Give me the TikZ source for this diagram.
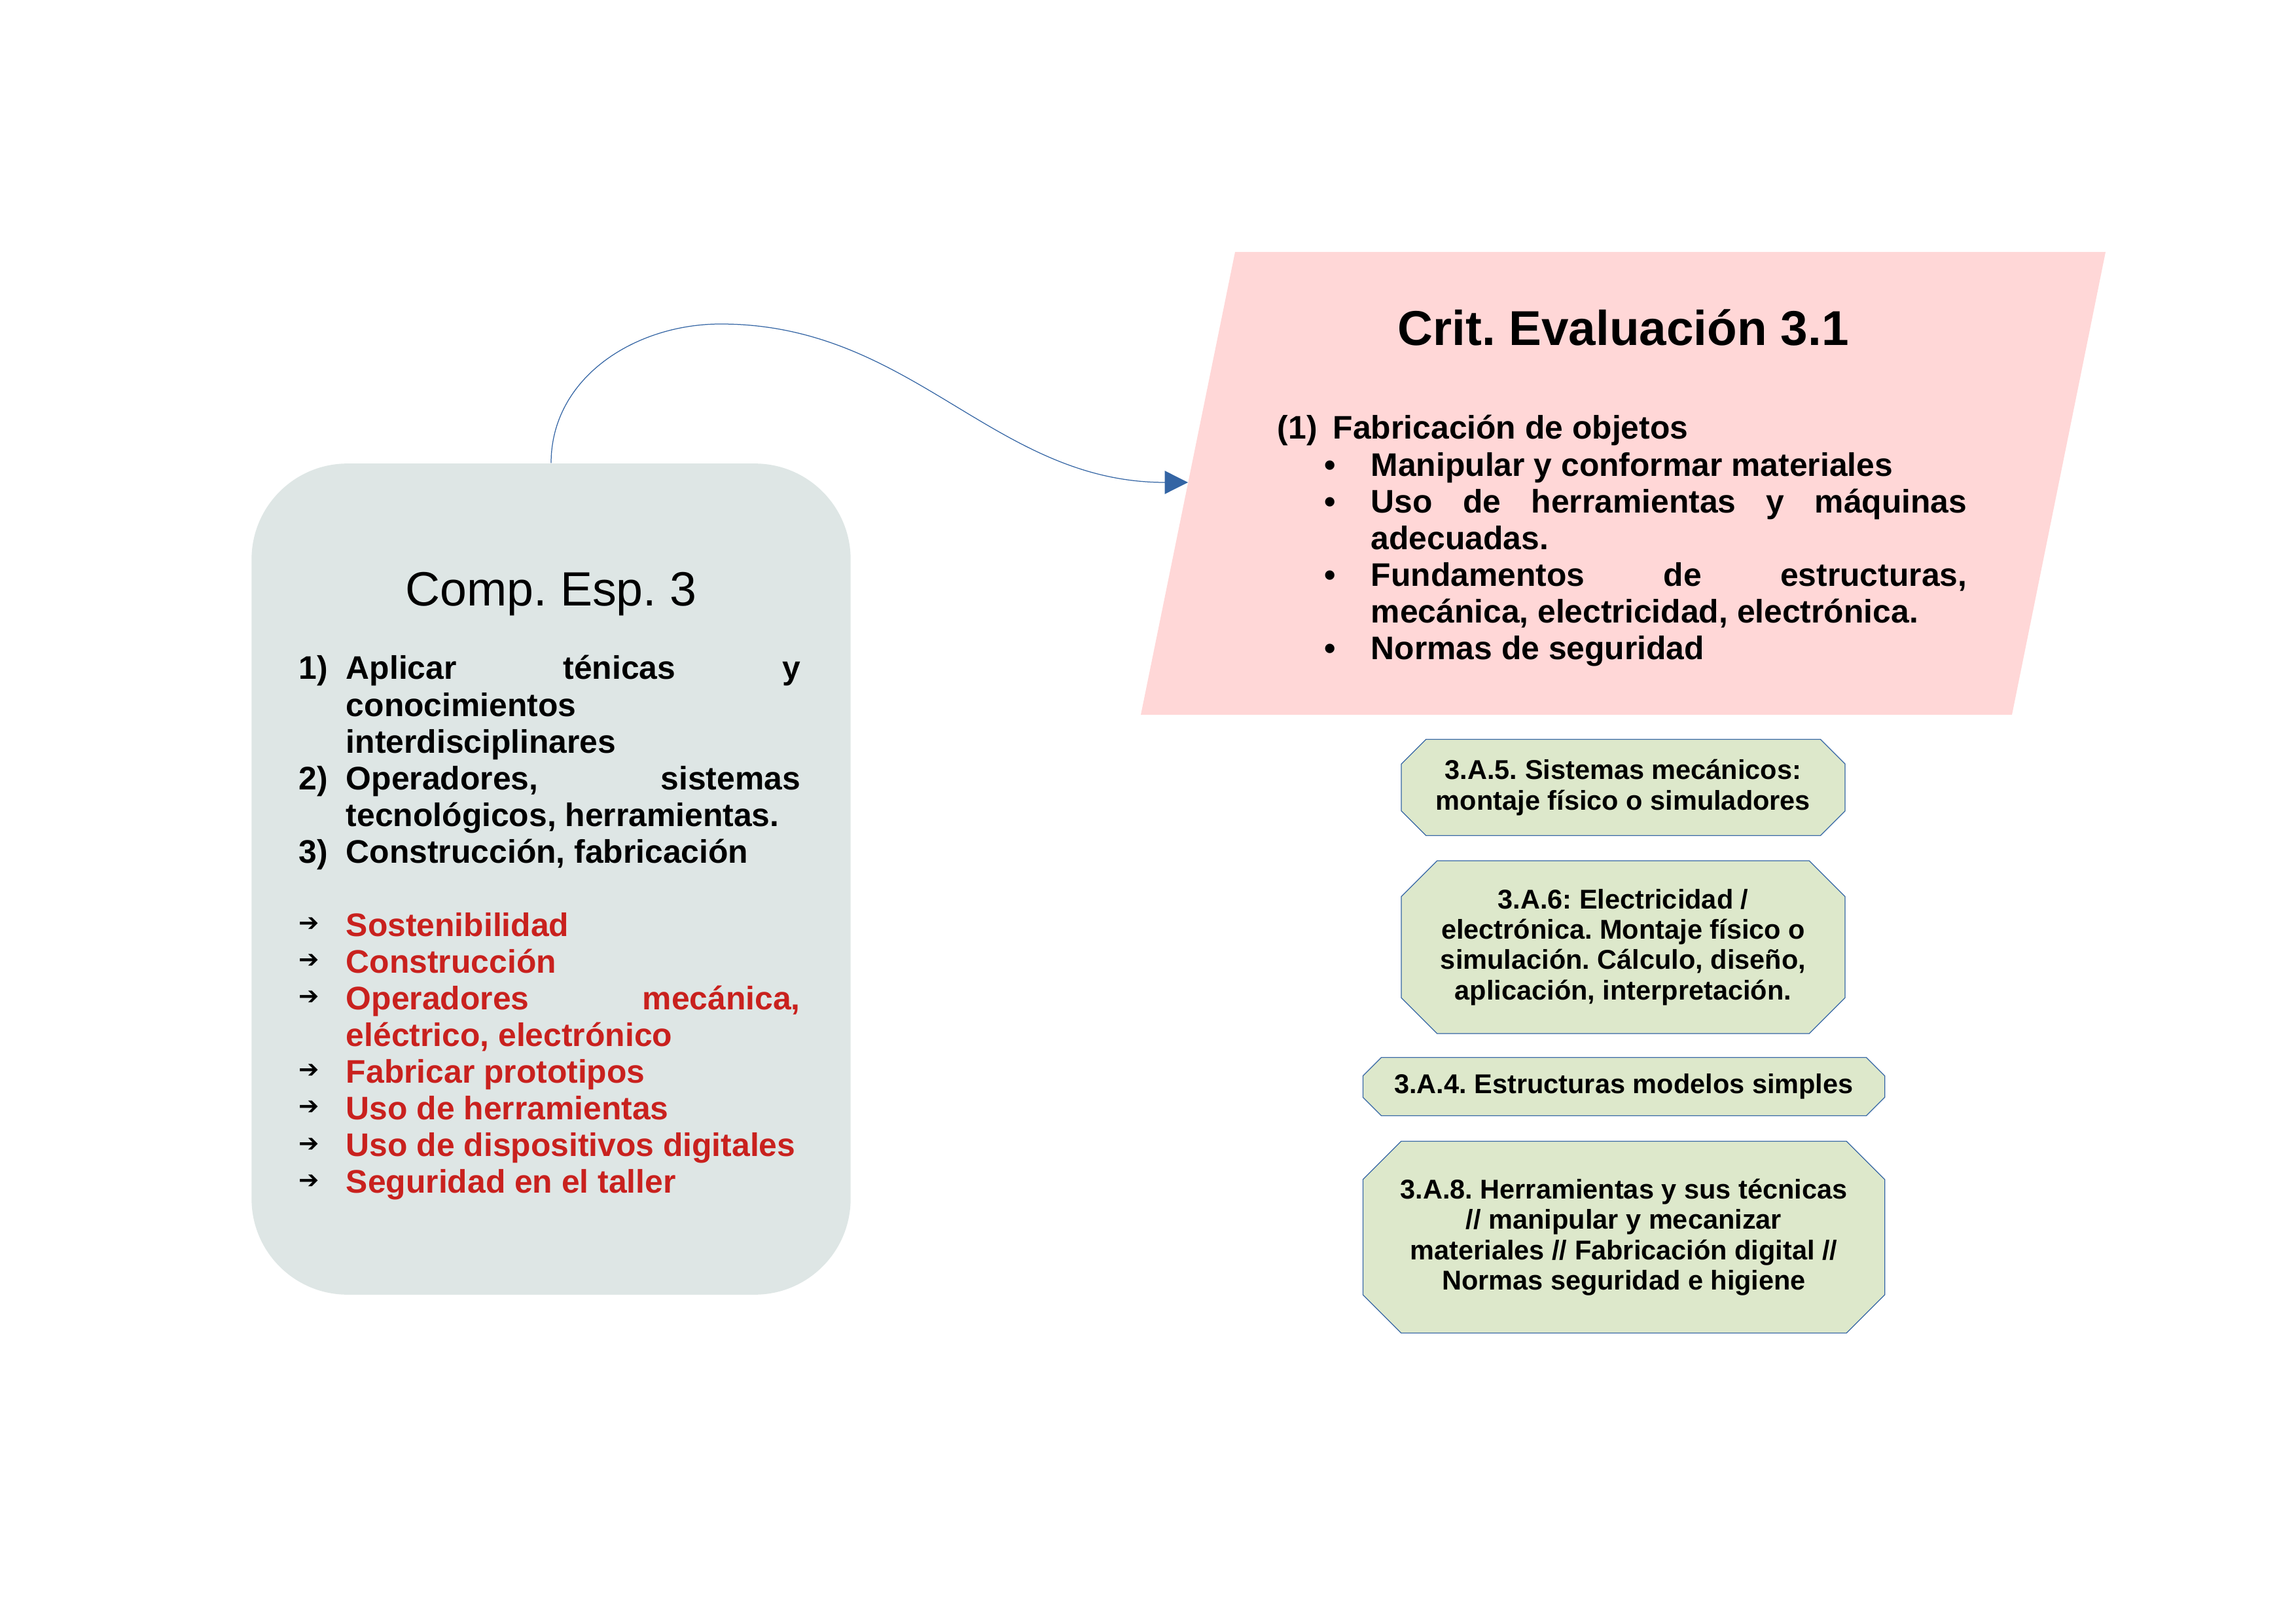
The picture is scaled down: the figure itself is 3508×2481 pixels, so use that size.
\documentclass[tikz,border=0pt]{standalone}
\usepackage{fontspec}
\setmainfont{Liberation Sans}
\newfontfamily\dejavu{DejaVu Sans}
\usetikzlibrary{shapes.misc,arrows.meta}

\definecolor{grisbox}{HTML}{DEE6E5}
\definecolor{rosabox}{HTML}{FFD7D7}
\definecolor{verdebox}{HTML}{DDE8CB}
\definecolor{azul}{HTML}{3465A4}
\definecolor{rojo}{HTML}{C9211E}

\frenchspacing
\hyphenpenalty=10000
\tolerance=10000
\hbadness=10000

\newcommand{\entrada}[3][6.1mm]{\noindent\hangindent=#1\makebox[#1][l]{#2}#3\par}
\newcommand{\punto}[1]{\noindent\hangindent=12.1mm\hspace*{6.05mm}\makebox[6.05mm][l]{\textbullet}#1\par}
\newcommand{\flecha}{\raisebox{1.8pt}{\color{black}\dejavu\fontsize{9}{9}\selectfont ➔}}

\begin{document}
\begin{tikzpicture}[x=0.084664mm, y=-0.084664mm,
	compbox/.style={rectangle, rounded corners=12.4mm, fill=grisbox, minimum width=77.5mm, minimum height=107.5mm, inner sep=0pt},
	lista/.style={inner sep=0pt, align=justify, font=\bfseries\fontsize{12}{13.5}\selectfont},
	saber/.style={chamfered rectangle, draw=azul, line width=0.3pt, fill=verdebox, align=center, inner sep=0pt, font=\bfseries\fontsize{10}{11.2}\selectfont},
	conector/.style={draw=azul, line width=0.3pt, -{Triangle[length=3mm, width=3mm]}}]
	\useasboundingbox (0,0) rectangle (3508,2481);
	
	% Competencia especifica
	\node[compbox] (comp) at (842,1343) {};
	\node[anchor=base, inner sep=0pt, font=\fontsize{17.7}{21}\selectfont] (comptit) at (842,926) {Comp. Esp. 3};
	\node[lista, text width=64.85mm, anchor=base west] (complista) at (456,1038) {%
		\entrada{1)}{Aplicar ténicas y\linebreak conocimientos\newline interdisciplinares}
		\entrada{2)}{Operadores, sistemas\linebreak tecnológicos, herramientas.}
		\entrada{3)}{Construcción, fabricación}
		\noindent\mbox{}\par
		\entrada{\flecha}{\textcolor{rojo}{Sostenibilidad}}
		\entrada{\flecha}{\textcolor{rojo}{Construcción}}
		\entrada{\flecha}{\textcolor{rojo}{Operadores mecánica,\linebreak eléctrico, electrónico}}
		\entrada{\flecha}{\textcolor{rojo}{Fabricar prototipos}}
		\entrada{\flecha}{\textcolor{rojo}{Uso de herramientas}}
		\entrada{\flecha}{\textcolor{rojo}{Uso de dispositivos digitales}}
		\entrada{\flecha}{\textcolor{rojo}{Seguridad en el taller}}};
	
	% Criterio de evaluacion
	\fill[rosabox] (1743,1092) -- (3074,1092) -- (3217,385) -- (1887,385) -- cycle;
	\coordinate (critentrada) at (1815,737);
	\node[anchor=base, inner sep=0pt, font=\bfseries\fontsize{18}{21}\selectfont] (crittit) at (2480,528) {Crit. Evaluación 3.1};
	\node[lista, text width=89.2mm, anchor=base west] (critlista) at (1951,671) {%
		\entrada[7.2mm]{(1)}{Fabricación de objetos}
		\punto{Manipular y conformar materiales}
		\punto{Uso de herramientas y máquinas\linebreak adecuadas.}
		\punto{Fundamentos de estructuras,\linebreak mecánica, electricidad, electrónica.}
		\punto{Normas de seguridad}};
	
	% Saberes basicos
	\node[saber, minimum width=57.4mm, minimum height=12.45mm, chamfered rectangle xsep=1.95mm] (sab5) at (2480,1203) {3.A.5. Sistemas mecánicos:\\montaje físico o simuladores};
	\node[saber, minimum width=57.4mm, minimum height=22.35mm, chamfered rectangle xsep=3.4mm] (sab6) at (2480,1447) {3.A.6: Electricidad /\\electrónica. Montaje físico o\\simulación. Cálculo, diseño,\\aplicación, interpretación.};
	\node[saber, minimum width=67.5mm, minimum height=7.55mm, chamfered rectangle xsep=1.15mm] (sab4) at (2481,1660) {3.A.4. Estructuras modelos simples};
	\node[saber, minimum width=67.5mm, minimum height=24.8mm, chamfered rectangle xsep=3.7mm] (sab8) at (2481,1890) {3.A.8. Herramientas y sus técnicas\\// manipular y mecanizar\\materiales // Fabricación digital //\\Normas seguridad e higiene};
	
	% Conector
	\coordinate (cima) at (1101,495);
	\draw[conector] (comp.north) .. controls (842,577) and (970,495) .. (cima) .. controls (1395,495) and (1518,737) .. (critentrada);
\end{tikzpicture}
\end{document}
